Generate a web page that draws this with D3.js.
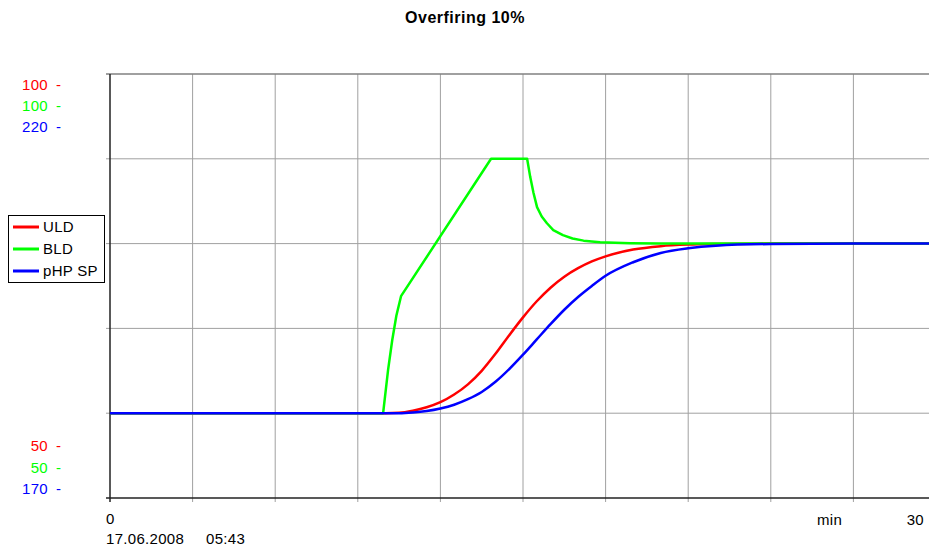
<!DOCTYPE html>
<html>
<head>
<meta charset="utf-8">
<script src="https://cdn.jsdelivr.net/npm/d3@7"></script>
<style>
  body { margin: 0; background: #fff; }
  svg text { font-family: "Liberation Sans", Arial, sans-serif; }
</style>
</head>
<body>
<div id="chart"></div>
<script>
// time axis in minutes
var times = [0, 3, 6, 9, 10, 10.5, 11, 11.5, 12, 12.5, 13, 13.5, 14, 14.5, 15, 15.5, 16, 16.5, 17, 17.5, 18, 19, 20, 21, 22, 24, 27, 30];
var uldValues = [60, 60, 60, 60, 60, 60.05, 60.3, 60.7, 61.3, 62.2, 63.4, 65.0, 67.0, 69.2, 71.3, 73.2, 74.8, 76.1, 77.1, 77.9, 78.5, 79.3, 79.7, 79.88, 79.95, 80, 80, 80];
var phpValues = [180, 180, 180, 180, 180, 180.0, 180.08, 180.25, 180.55, 181.0, 181.65, 182.5, 183.7, 185.2, 186.9, 188.7, 190.5, 192.2, 193.7, 195.0, 196.2, 197.8, 198.9, 199.45, 199.75, 199.95, 200, 200];
// BLD has its own breakpoints (ramp, hold, decay)
var bldTimes = [0, 9.92, 10.1, 10.25, 10.4, 10.57, 13.84, 15.15, 15.26, 15.38, 15.51, 15.68, 15.87, 16.1, 16.45, 16.8, 17.2, 17.8, 18.9, 20, 30];
var bldValues = [60, 60, 65.1, 68.6, 71.5, 73.8, 90, 90, 87.9, 86.0, 84.3, 83.2, 82.4, 81.6, 81.0, 80.6, 80.35, 80.15, 80.05, 80, 80];

var seriesNames = ["ULD", "BLD", "pHP SP"];
var seriesColors = ["#ff0000", "#00ff00", "#0000ff"];
var topLabels = ["100", "100", "220"];
var bottomLabels = ["50", "50", "170"];

var width = 929, height = 546;
var plotL = 110, plotR = 936, plotT = 74, plotB = 498;
var fs = 15, ls = "0.3px";

var svg = d3.select("#chart").append("svg")
    .attr("width", width)
    .attr("height", height);

var x = d3.scaleLinear().domain([0, 30]).range([plotL, plotR]);
var yUld = d3.scaleLinear().domain([50, 100]).range([plotB, plotT]);
var yPhp = d3.scaleLinear().domain([170, 220]).range([plotB, plotT]);

// grid
var grid = svg.append("g");
grid.selectAll(".vg").data(d3.range(3, 31, 3)).enter().append("line")
    .attr("x1", function(d){ return x(d); }).attr("x2", function(d){ return x(d); })
    .attr("y1", plotT).attr("y2", plotB + 4)
    .attr("stroke", "#a0a0a0").attr("stroke-width", 1);
grid.selectAll(".hg").data(d3.range(60, 101, 10)).enter().append("line")
    .attr("x1", plotL - 4).attr("x2", plotR)
    .attr("y1", function(d){ return yUld(d); }).attr("y2", function(d){ return yUld(d); })
    .attr("stroke", function(d){ return d == 100 ? "#808080" : "#a0a0a0"; })
    .attr("stroke-width", function(d){ return d == 100 ? 1.6 : 1; });

// axes
svg.append("line").attr("x1", plotL).attr("x2", plotL).attr("y1", plotT).attr("y2", plotB + 4)
    .attr("stroke", "#222").attr("stroke-width", 1.5);
svg.append("line").attr("x1", plotL - 4).attr("x2", plotR).attr("y1", plotB).attr("y2", plotB)
    .attr("stroke", "#222").attr("stroke-width", 1.5);

// series
function mkLine(ts, ys, yscale, curve) {
    return d3.line()
        .x(function(d, i){ return x(ts[i]); })
        .y(function(d){ return yscale(d); })
        .curve(curve)(ys);
}
svg.append("path").attr("d", mkLine(times, uldValues, yUld, d3.curveMonotoneX))
    .attr("fill", "none").attr("stroke", seriesColors[0]).attr("stroke-width", 2.5);
svg.append("path").attr("d", mkLine(bldTimes, bldValues, yUld, d3.curveLinear))
    .attr("fill", "none").attr("stroke", seriesColors[1]).attr("stroke-width", 2.5)
    .attr("stroke-linejoin", "round");
svg.append("path").attr("d", mkLine(times, phpValues, yPhp, d3.curveMonotoneX))
    .attr("fill", "none").attr("stroke", seriesColors[2]).attr("stroke-width", 2.5);

// left scale labels
function scaleLabel(t, yy, col) {
    svg.append("text").attr("x", 48).attr("y", yy).attr("text-anchor", "end")
        .attr("font-size", fs).attr("letter-spacing", ls).attr("fill", col).text(t);
    svg.append("text").attr("x", 56).attr("y", yy)
        .attr("font-size", fs).attr("fill", col).text("-");
}
var topY = [90, 111, 132], botY = [451, 473, 494];
topLabels.forEach(function(t, i){ scaleLabel(t, topY[i], seriesColors[i]); });
bottomLabels.forEach(function(t, i){ scaleLabel(t, botY[i], seriesColors[i]); });

// legend
var lg = svg.append("g");
lg.append("rect").attr("x", 8.5).attr("y", 215.5).attr("width", 96).attr("height", 67)
    .attr("fill", "#fff").attr("stroke", "#000").attr("stroke-width", 1);
seriesNames.forEach(function(n, i){
    var yy = 227 + i * 22;
    lg.append("line").attr("x1", 13).attr("x2", 39).attr("y1", yy).attr("y2", yy)
        .attr("stroke", seriesColors[i]).attr("stroke-width", 3);
    lg.append("text").attr("x", 43).attr("y", yy + 5).attr("font-size", fs)
        .attr("letter-spacing", ls).attr("fill", "#000").text(n);
});

// title
svg.append("text").attr("x", 465).attr("y", 23).attr("text-anchor", "middle")
    .attr("font-size", 16).attr("letter-spacing", "0.5px").attr("font-weight", "bold").text("Overfiring 10%");

// bottom labels
function bottomText(t, xx, yy, anchor) {
    svg.append("text").attr("x", xx).attr("y", yy).attr("text-anchor", anchor || "start")
        .attr("font-size", fs).attr("letter-spacing", ls).text(t);
}
bottomText("0", 106, 524);
bottomText("17.06.2008", 106, 544);
bottomText("05:43", 206, 544);
bottomText("min", 817, 525);
bottomText("30", 924, 525, "end");
</script>
</body>
</html>
